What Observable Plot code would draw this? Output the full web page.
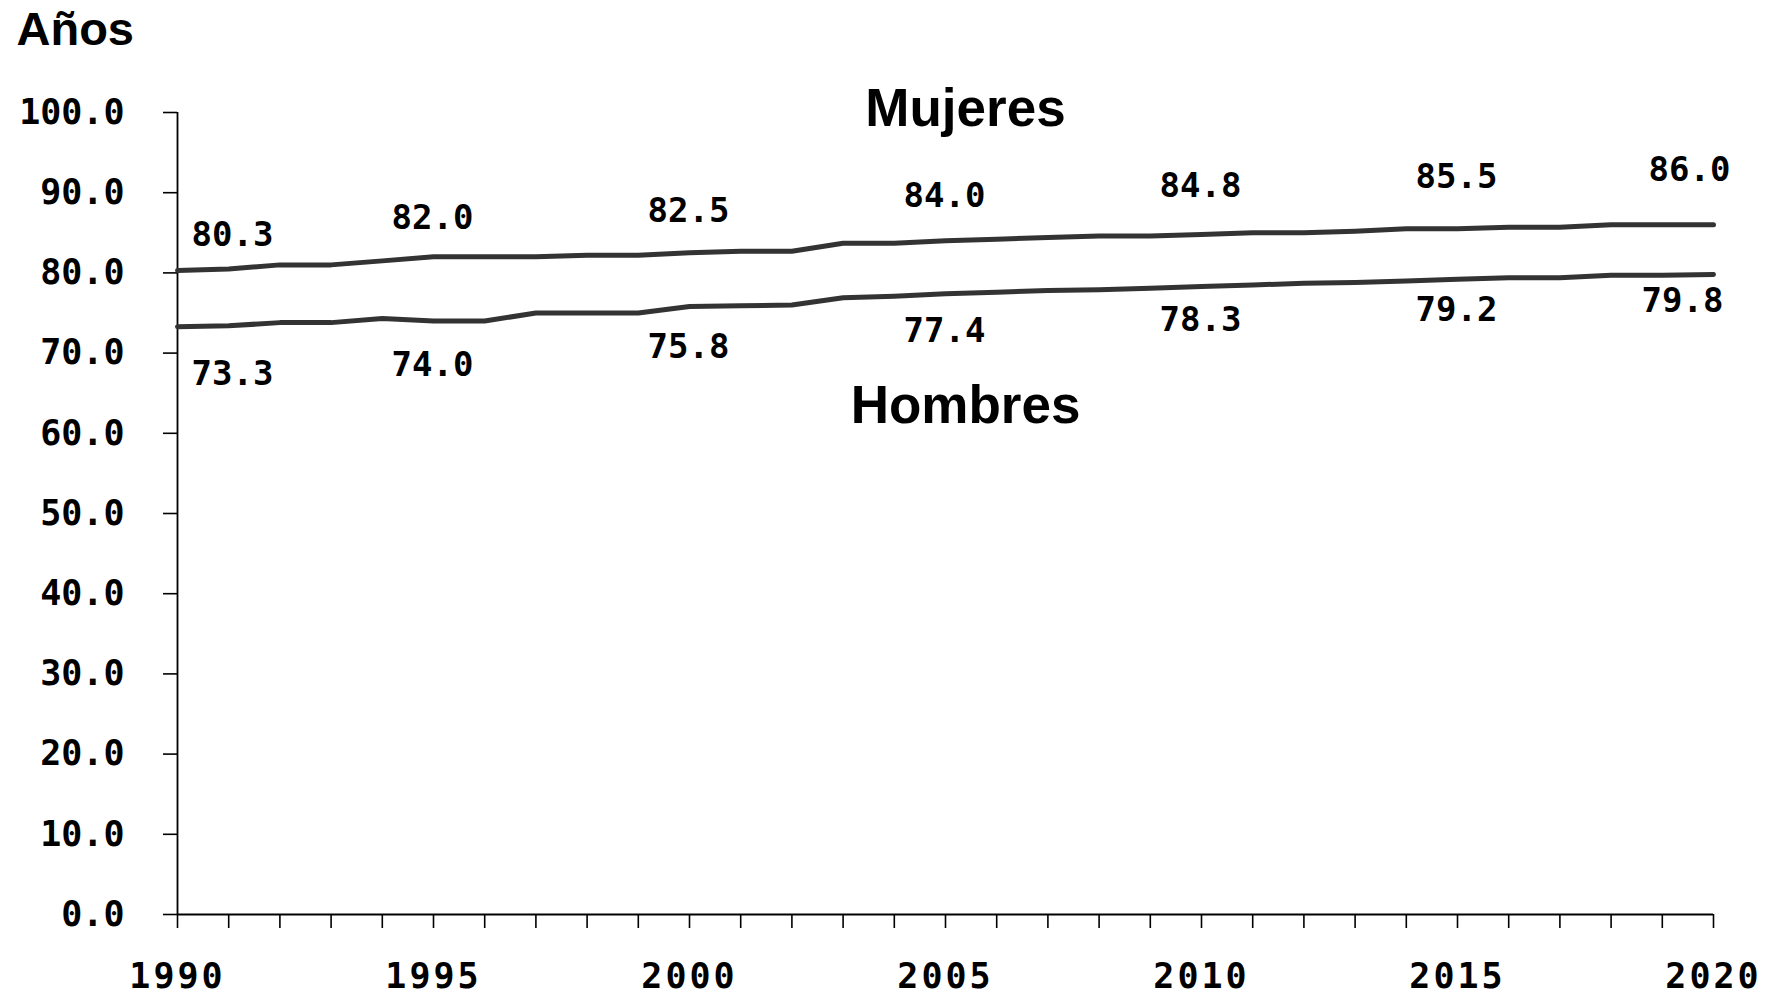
<!DOCTYPE html>
<html>
<head>
<meta charset="utf-8">
<script src="https://cdn.jsdelivr.net/npm/d3@7"></script>
<script src="https://cdn.jsdelivr.net/npm/@observablehq/plot@0.6"></script>
<style>
  html, body { margin: 0; padding: 0; background: #fff; overflow: hidden; }
  #chart svg { display: block; }
  g[aria-label="x-axis tick label"] text { letter-spacing: 3px; }
</style>
</head>
<body>
<div id="chart"></div>
<script>
// ---- data ----
const years = [1990, 1991, 1992, 1993, 1994, 1995, 1996, 1997, 1998, 1999,
               2000, 2001, 2002, 2003, 2004, 2005, 2006, 2007, 2008, 2009,
               2010, 2011, 2012, 2013, 2014, 2015, 2016, 2017, 2018, 2019, 2020];
const mujeres = [80.3, 80.5, 81.0, 81.0, 81.5, 82.0, 82.0, 82.0, 82.2, 82.2,
                 82.5, 82.7, 82.7, 83.7, 83.7, 84.0, 84.2, 84.4, 84.6, 84.6,
                 84.8, 85.0, 85.0, 85.2, 85.5, 85.5, 85.7, 85.7, 86.0, 86.0, 86.0];
const hombres = [73.3, 73.4, 73.8, 73.8, 74.3, 74.0, 74.0, 75.0, 75.0, 75.0,
                 75.8, 75.9, 76.0, 76.9, 77.1, 77.4, 77.6, 77.8, 77.9, 78.1,
                 78.3, 78.5, 78.7, 78.8, 79.0, 79.2, 79.4, 79.4, 79.7, 79.7, 79.8];
const labelYears = [1990, 1995, 2000, 2005, 2010, 2015, 2020];
const yTicks = [0, 10, 20, 30, 40, 50, 60, 70, 80, 90, 100];
const xTickLabels = [1990, 1995, 2000, 2005, 2010, 2015, 2020];
const seriesNames = ["Mujeres", "Hombres"];
const yUnit = "Años";

// ---- table ----
const rows = years.flatMap((yr, i) => [
  {year: yr, value: mujeres[i], serie: seriesNames[0]},
  {year: yr, value: hombres[i], serie: seriesNames[1]}
]);
const labels = rows.filter(d => labelYears.includes(d.year));
const firstYear = years[0], lastYear = years[years.length - 1];

const mono = "'DejaVu Sans Mono', 'Liberation Mono', monospace";
const sans = "'Liberation Sans', Arial, sans-serif";

// label placement: offset drifts linearly from the first to the last label year
function valueLabels(serie, dyFirst, dyLast) {
  return labelYears.map(yr => {
    const t = (yr - firstYear) / (lastYear - firstYear);
    const dy = dyFirst + (dyLast - dyFirst) * t;
    const dx = yr === firstYear ? 55 : yr === lastYear ? (serie === seriesNames[0] ? -24 : -31) : -1;
    return Plot.text(labels, {
      filter: d => d.serie === serie && d.year === yr,
      x: "year", y: "value", text: d => d.value.toFixed(1),
      dx, dy, textAnchor: "middle", lineAnchor: "middle",
      fontFamily: mono, fontWeight: "bold", fontSize: 34, fill: "#000"
    });
  });
}

const chart = Plot.plot({
  width: 1769,
  height: 995,
  marginLeft: 177,
  marginRight: 56,
  marginTop: 112,
  marginBottom: 81,
  x: {domain: [firstYear, lastYear]},
  y: {domain: [yTicks[0], yTicks[yTicks.length - 1]]},
  style: {background: "#fff", color: "#000", fontFamily: mono},
  marks: [
    Plot.axisY({ticks: yTicks, tickSize: 14, tickPadding: 39, label: null,
      tickFormat: d => d.toFixed(1), fontSize: 35, fontWeight: "bold",
      fontFamily: mono, color: "#000", strokeWidth: 1.6}),
    Plot.axisX({ticks: years, tickSize: 14, tickPadding: 35, label: null,
      tickFormat: d => xTickLabels.includes(d) ? String(d) : "",
      fontSize: 35, fontWeight: "bold", fontFamily: mono, color: "#000", strokeWidth: 1.6}),
    Plot.ruleX([firstYear], {y1: yTicks[0], y2: yTicks[yTicks.length - 1], stroke: "#000", strokeWidth: 1.8}),
    Plot.ruleY([yTicks[0]], {x1: firstYear, x2: lastYear, stroke: "#000", strokeWidth: 1.8}),
    Plot.line(rows, {x: "year", y: "value", z: "serie", stroke: "#333", strokeWidth: 5,
      strokeLinecap: "round", strokeLinejoin: "round"}),
    ...valueLabels(seriesNames[0], -35, -55),
    ...valueLabels(seriesNames[1], 47, 27),
    Plot.text([yUnit], {text: d => d, frameAnchor: "top-left", dx: -161, dy: -68,
      lineAnchor: "bottom", textAnchor: "start", fontFamily: sans, fontWeight: "bold",
      fontSize: 47, fill: "#000"}),
    Plot.text([seriesNames[0]], {text: d => d, frameAnchor: "top", dx: 20, dy: 13,
      lineAnchor: "bottom", textAnchor: "middle", fontFamily: sans, fontWeight: "bold",
      fontSize: 53, fill: "#000"}),
    Plot.text([seriesNames[1]], {text: d => d, frameAnchor: "top", dx: 20, dy: 310,
      lineAnchor: "bottom", textAnchor: "middle", fontFamily: sans, fontWeight: "bold",
      fontSize: 53, fill: "#000"})
  ]
});
document.getElementById("chart").appendChild(chart);
</script>
</body>
</html>
